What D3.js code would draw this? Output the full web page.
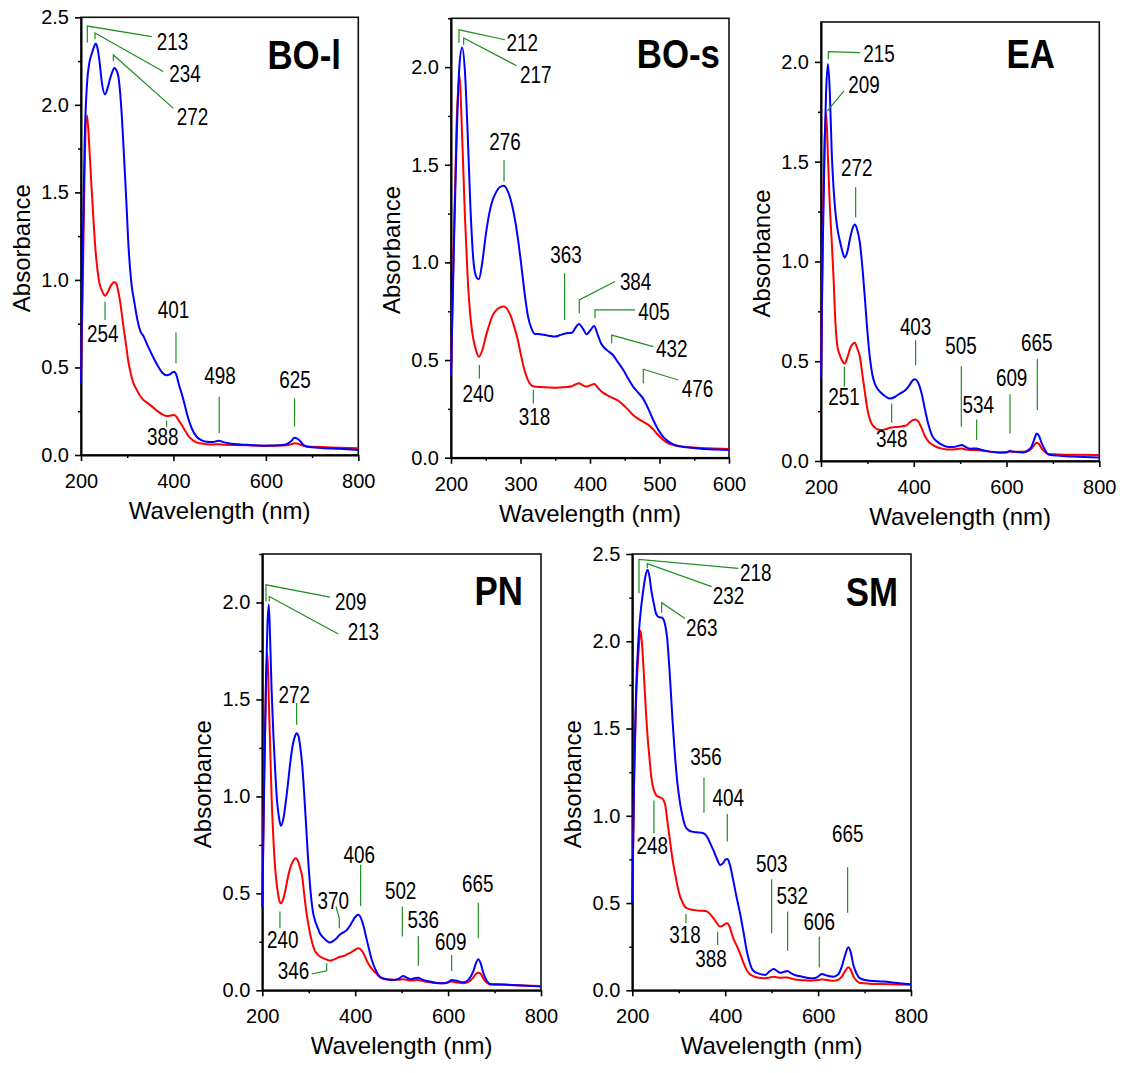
<!DOCTYPE html>
<html><head><meta charset="utf-8">
<script src="https://cdn.jsdelivr.net/npm/d3@7/dist/d3.min.js"></script>
<style>
body{margin:0;background:#fff}
svg{display:block}
text{font-family:"Liberation Sans",Arial,Helvetica,sans-serif;fill:#000}
</style>
</head><body>
<svg id="chart" width="1127" height="1073"></svg>
<script>
// ---------------- DATA ----------------
// BO-l
const boL_wl   = [200,204,208,213,218,223,228,232,236,240,245,252,258,263,268,272,276,281,285,288,292,295,299,302,306,310,315,320,328,335,345,356,366,376,385,392,397,401,406,412,418,425,432,440,450,460,472,485,498,510,530,560,600,630,645,655,662,667,674,681,690,720,760,800];
const boL_blue = [0.41,1.20,1.80,2.12,2.24,2.29,2.33,2.35,2.32,2.25,2.13,2.06,2.10,2.15,2.19,2.21,2.20,2.16,2.06,1.95,1.76,1.61,1.40,1.23,1.07,0.96,0.88,0.80,0.71,0.68,0.62,0.56,0.51,0.47,0.455,0.46,0.47,0.476,0.46,0.40,0.35,0.28,0.21,0.15,0.105,0.085,0.076,0.074,0.082,0.072,0.063,0.058,0.053,0.055,0.062,0.080,0.098,0.095,0.080,0.058,0.047,0.040,0.035,0.029];
const boL_red  = [0.42,1.00,1.65,1.94,1.76,1.52,1.30,1.15,1.05,0.98,0.94,0.91,0.93,0.96,0.98,0.986,0.98,0.93,0.87,0.81,0.73,0.676,0.60,0.54,0.486,0.44,0.40,0.375,0.337,0.315,0.295,0.272,0.25,0.232,0.223,0.224,0.227,0.228,0.22,0.195,0.171,0.14,0.11,0.088,0.072,0.066,0.062,0.06,0.062,0.058,0.057,0.055,0.053,0.054,0.056,0.062,0.067,0.066,0.06,0.053,0.048,0.045,0.042,0.038];
const boL_ann = [
  {t:"213", line:[[213.7,2.356],[213.7,2.45],[353,2.39]], lx:364, ly:2.36, a:"start"},
  {t:"234", line:[[230.3,2.374],[230.3,2.41],[378,2.19]], lx:391, ly:2.18, a:"start"},
  {t:"272", line:[[270,2.25],[270,2.285],[400,1.98]], lx:407, ly:1.93, a:"start"},
  {t:"254", line:[[252,0.876],[252,0.771]], lx:247, ly:0.695, a:"middle"},
  {t:"401", line:[[405.5,0.70],[405.5,0.524]], lx:400, ly:0.832, a:"middle"},
  {t:"388", line:[[385.3,0.196],[385.3,0.162]], lx:376.7, ly:0.105, a:"middle"},
  {t:"498", line:[[499,0.333],[499,0.124]], lx:500.7, ly:0.451, a:"middle"},
  {t:"625", line:[[662,0.324],[662,0.162]], lx:663, ly:0.432, a:"middle"}
];

// BO-s
const boS_wl   = [200,204,208,212,216,220,224,228,232,236,240,245,250,255,260,265,270,276,281,286,291,296,301,306,311,316,320,328,340,350,357,366,374,379,384,390,395,400,406,411,416,424,433,440,448,455,462,469,476,484,491,498,505,512,520,530,540,560,580,600];
const boS_blue = [0.42,1.05,1.62,2.00,2.10,1.98,1.66,1.28,1.02,0.93,0.914,1.00,1.14,1.25,1.32,1.36,1.385,1.392,1.37,1.32,1.24,1.13,0.99,0.84,0.72,0.66,0.635,0.632,0.625,0.62,0.628,0.637,0.64,0.665,0.685,0.66,0.632,0.65,0.675,0.63,0.585,0.552,0.526,0.49,0.449,0.405,0.364,0.335,0.305,0.25,0.193,0.145,0.108,0.085,0.068,0.058,0.053,0.046,0.042,0.039];
const boS_red  = [0.42,1.10,1.70,1.96,1.65,1.24,0.92,0.72,0.61,0.55,0.517,0.55,0.62,0.68,0.73,0.755,0.768,0.774,0.76,0.725,0.67,0.605,0.52,0.445,0.395,0.37,0.364,0.362,0.36,0.358,0.36,0.362,0.366,0.375,0.381,0.37,0.364,0.37,0.377,0.36,0.34,0.322,0.305,0.293,0.27,0.245,0.219,0.2,0.185,0.168,0.145,0.116,0.092,0.075,0.065,0.058,0.054,0.05,0.047,0.044];
const boS_ann = [
  {t:"212", line:[[211.5,2.123],[211.5,2.191],[277.7,2.14]], lx:280, ly:2.123, a:"start"},
  {t:"217", line:[[218.2,2.114],[218.2,2.149],[294.5,2.007]], lx:299.3, ly:1.96, a:"start"},
  {t:"276", line:[[276.3,1.525],[276.3,1.414]], lx:277.7, ly:1.62, a:"middle"},
  {t:"363", line:[[363.5,0.944],[363.5,0.705]], lx:365.5, ly:1.038, a:"middle"},
  {t:"384", line:[[384.6,0.74],[384.6,0.808],[436,0.902]], lx:443, ly:0.902, a:"start"},
  {t:"405", line:[[407.2,0.714],[407.2,0.757],[464.7,0.757]], lx:469.5, ly:0.748, a:"start"},
  {t:"432", line:[[431.2,0.586],[431.2,0.628],[491,0.569]], lx:495, ly:0.56, a:"start"},
  {t:"476", line:[[476.7,0.381],[476.7,0.453],[527,0.398]], lx:532, ly:0.355, a:"start"},
  {t:"240", line:[[240.8,0.475],[240.8,0.406]], lx:239.3, ly:0.33, a:"middle"},
  {t:"318", line:[[318.5,0.347],[318.5,0.278]], lx:320, ly:0.21, a:"middle"}
];

// EA
const ea_wl   = [200,204,208,211,215,219,223,227,231,235,240,245,251,257,263,268,273,278,284,290,295,300,306,311,316,323,331,340,349,360,370,378,385,392,398,403,409,417,424,431,440,449,460,471,485,495,503,512,522,535,545,564,585,600,607,615,636,647,654,660,665,670,676,683,690,710,744,800];
const ea_blue = [0.42,1.10,1.60,1.85,1.99,1.85,1.555,1.37,1.25,1.17,1.11,1.06,1.02,1.05,1.12,1.165,1.185,1.16,1.09,0.95,0.805,0.65,0.505,0.43,0.388,0.358,0.338,0.322,0.313,0.322,0.338,0.348,0.363,0.385,0.405,0.41,0.395,0.338,0.26,0.188,0.125,0.10,0.082,0.072,0.07,0.075,0.08,0.07,0.062,0.063,0.056,0.047,0.043,0.043,0.05,0.047,0.043,0.055,0.072,0.11,0.138,0.125,0.088,0.055,0.033,0.027,0.022,0.017];
const ea_red  = [0.42,1.20,1.62,1.747,1.52,1.28,1.105,0.92,0.70,0.58,0.535,0.505,0.488,0.52,0.565,0.585,0.592,0.565,0.52,0.42,0.338,0.26,0.205,0.18,0.168,0.158,0.155,0.16,0.167,0.17,0.172,0.175,0.18,0.195,0.205,0.208,0.2,0.165,0.125,0.1,0.082,0.07,0.062,0.058,0.058,0.06,0.063,0.057,0.055,0.055,0.052,0.047,0.042,0.045,0.047,0.046,0.046,0.05,0.062,0.08,0.092,0.085,0.062,0.045,0.035,0.033,0.031,0.03];
const ea_ann = [
  {t:"215", line:[[215.8,2.013],[215.8,2.052],[284,2.047]], lx:291.3, ly:2.043, a:"start"},
  {t:"209", line:[[213.7,1.755],[249.6,1.855]], lx:259, ly:1.888, a:"start"},
  {t:"272", line:[[274.7,1.372],[274.7,1.222]], lx:277, ly:1.472, a:"middle"},
  {t:"251", line:[[250.3,0.472],[250.3,0.372]], lx:249.6, ly:0.322, a:"middle"},
  {t:"348", line:[[352.3,0.288],[352.3,0.192]], lx:352.3, ly:0.113, a:"middle"},
  {t:"403", line:[[404,0.605],[404,0.48]], lx:404, ly:0.672, a:"middle"},
  {t:"505", line:[[502.5,0.475],[502.5,0.172]], lx:501.8, ly:0.577, a:"middle"},
  {t:"534", line:[[535.6,0.208],[535.6,0.105]], lx:539, ly:0.283, a:"middle"},
  {t:"609", line:[[607.5,0.335],[607.5,0.138]], lx:611, ly:0.417, a:"middle"},
  {t:"665", line:[[666.4,0.513],[666.4,0.255]], lx:665, ly:0.592, a:"middle"}
];

// PN
const pn_wl   = [200,204,208,211,214,217,220,224,228,232,236,240,245,250,255,260,266,271,274,278,282,286,290,294,298,303,308,313,318,324,332,340,346,353,360,366,371,377,382,388,394,400,407,412,418,424,430,436,444,453,465,482,494,503,511,520,527,535,545,560,575,590,600,608,616,633,645,654,660,665,670,676,683,690,720,760,800];
const pn_blue = [0.43,1.05,1.60,1.88,1.99,1.80,1.55,1.31,1.12,0.97,0.89,0.848,0.88,0.96,1.06,1.17,1.27,1.315,1.326,1.31,1.25,1.16,1.02,0.862,0.70,0.535,0.42,0.363,0.33,0.294,0.27,0.252,0.246,0.255,0.268,0.285,0.294,0.302,0.311,0.33,0.355,0.378,0.389,0.375,0.33,0.27,0.21,0.155,0.105,0.07,0.058,0.053,0.06,0.074,0.065,0.057,0.062,0.065,0.055,0.045,0.038,0.036,0.042,0.053,0.05,0.041,0.058,0.096,0.14,0.16,0.14,0.088,0.05,0.033,0.03,0.025,0.019];
const pn_red  = [0.43,1.10,1.60,1.738,1.50,1.25,1.00,0.776,0.62,0.53,0.47,0.449,0.47,0.52,0.58,0.63,0.665,0.681,0.678,0.66,0.625,0.585,0.5,0.42,0.355,0.29,0.24,0.205,0.188,0.174,0.165,0.157,0.153,0.158,0.165,0.172,0.175,0.178,0.185,0.192,0.2,0.21,0.217,0.21,0.19,0.157,0.13,0.11,0.09,0.068,0.057,0.055,0.055,0.057,0.054,0.05,0.052,0.053,0.048,0.042,0.038,0.036,0.04,0.045,0.042,0.037,0.045,0.065,0.085,0.091,0.085,0.06,0.04,0.03,0.028,0.025,0.022];
const pn_ann = [
  {t:"209", line:[[207.9,2.005],[207.9,2.091],[345.7,2.028]], lx:356.5, ly:2.005, a:"start"},
  {t:"213", line:[[215,2.005],[215,2.031],[363.6,1.837]], lx:383.7, ly:1.85, a:"start"},
  {t:"272", line:[[273.9,1.481],[273.9,1.369]], lx:268.9, ly:1.524, a:"middle"},
  {t:"240", line:[[238,0.406],[238,0.32]], lx:243.8, ly:0.26, a:"middle"},
  {t:"346", line:[[306.2,0.084],[338.5,0.101],[338.5,0.139]], lx:301, ly:0.101, a:"end"},
  {t:"370", line:[[358.6,0.432],[365.8,0.371],[365.8,0.32]], lx:352.9, ly:0.463, a:"middle"},
  {t:"406", line:[[411.7,0.647],[411.7,0.435]], lx:408.9, ly:0.698, a:"middle"},
  {t:"502", line:[[501.4,0.432],[501.4,0.277]], lx:497.8, ly:0.514, a:"middle"},
  {t:"536", line:[[535.9,0.28],[535.9,0.126]], lx:546.6, ly:0.366, a:"middle"},
  {t:"609", line:[[607.6,0.182],[607.6,0.1]], lx:605.5, ly:0.248, a:"middle"},
  {t:"665", line:[[665,0.452],[665,0.268]], lx:663.6, ly:0.552, a:"middle"}
];

// SM
const sm_wl   = [200,204,208,213,218,223,228,233,237,241,246,251,256,260,264,268,271,275,279,283,287,292,297,303,308,313,320,328,338,349,356,362,368,375,382,389,396,401,405,410,417,424,432,439,446,452,457,464,471,486,496,504,512,518,526,534,542,550,566,583,596,603,608,615,625,633,643,651,658,665,670,676,683,690,710,740,770,800];
const sm_blue = [0.50,1.25,1.70,2.0,2.17,2.28,2.37,2.41,2.37,2.29,2.22,2.16,2.14,2.137,2.135,2.12,2.09,2.02,1.88,1.71,1.53,1.34,1.19,1.07,1.0,0.947,0.92,0.909,0.905,0.903,0.895,0.875,0.84,0.80,0.755,0.718,0.73,0.75,0.752,0.72,0.635,0.54,0.441,0.34,0.231,0.165,0.126,0.105,0.097,0.088,0.11,0.122,0.11,0.10,0.105,0.111,0.097,0.088,0.078,0.069,0.072,0.085,0.094,0.088,0.08,0.078,0.09,0.136,0.2,0.246,0.22,0.145,0.095,0.069,0.055,0.05,0.042,0.034];
const sm_red  = [0.50,1.20,1.65,1.92,2.06,1.90,1.66,1.45,1.33,1.22,1.15,1.12,1.11,1.105,1.10,1.085,1.06,0.98,0.90,0.82,0.745,0.67,0.60,0.537,0.505,0.48,0.468,0.462,0.458,0.456,0.455,0.45,0.435,0.412,0.385,0.365,0.372,0.383,0.384,0.36,0.3,0.26,0.21,0.16,0.117,0.095,0.085,0.078,0.072,0.069,0.074,0.078,0.074,0.072,0.073,0.073,0.068,0.062,0.058,0.055,0.058,0.06,0.063,0.06,0.056,0.055,0.06,0.078,0.11,0.132,0.12,0.08,0.055,0.042,0.038,0.036,0.033,0.031];
const sm_ann = [
  {t:"218", line:[[214.4,2.275],[214.4,2.469],[428.2,2.418]], lx:431.8, ly:2.393, a:"start"},
  {t:"232", line:[[232.3,2.42],[232.3,2.445],[370.8,2.313]], lx:373, ly:2.26, a:"start"},
  {t:"263", line:[[263.2,2.164],[263.2,2.221],[313.4,2.131]], lx:315.5, ly:2.08, a:"start"},
  {t:"248", line:[[246.6,1.087],[246.6,0.9]], lx:243, ly:0.827, a:"middle"},
  {t:"356", line:[[354.3,1.22],[354.3,1.018]], lx:358.6, ly:1.339, a:"middle"},
  {t:"404", line:[[404.5,1.01],[404.5,0.852]], lx:406.7, ly:1.106, a:"middle"},
  {t:"318", line:[[315.5,0.437],[315.5,0.384]], lx:313.4, ly:0.317, a:"middle"},
  {t:"388", line:[[383.7,0.336],[383.7,0.26]], lx:369.4, ly:0.183, a:"middle"},
  {t:"503", line:[[500,0.636],[500,0.327]], lx:500, ly:0.728, a:"middle"},
  {t:"532", line:[[534.4,0.451],[534.4,0.227]], lx:544.5, ly:0.542, a:"middle"},
  {t:"606", line:[[602.6,0.307],[602.6,0.132]], lx:602.6, ly:0.393, a:"middle"},
  {t:"665", line:[[663.6,0.705],[663.6,0.445]], lx:663.6, ly:0.9, a:"middle"}
];

const panelNames = ["BO-l","BO-s","EA","PN","SM"];
const xTitle = "Wavelength (nm)";
const yTitle = "Absorbance";

// ---------------- LAYOUT ----------------
const layout = [
  {wl:boL_wl, blue:boL_blue, red:boL_red, ann:boL_ann, L:81,    R:358.3, T:17.3, B:455,   xd:[200,800], yd:[0,2.5],  xstep:200, xminor:100, tx:341,  ty:69},
  {wl:boS_wl, blue:boS_blue, red:boS_red, ann:boS_ann, L:451,   R:729,   T:18.3, B:457.7, xd:[200,600], yd:[0,2.25], xstep:100, xminor:50,  tx:720,  ty:68},
  {wl:ea_wl,  blue:ea_blue,  red:ea_red,  ann:ea_ann,  L:821,   R:1099.3,T:22,   B:461,   xd:[200,800], yd:[0,2.2],  xstep:200, xminor:100, tx:1055, ty:68},
  {wl:pn_wl,  blue:pn_blue,  red:pn_red,  ann:pn_ann,  L:262.3, R:541,   T:554,  B:990.3, xd:[200,800], yd:[0,2.25], xstep:200, xminor:100, tx:523,  ty:605},
  {wl:sm_wl,  blue:sm_blue,  red:sm_red,  ann:sm_ann,  L:632.3, R:911,   T:554,  B:990.3, xd:[200,800], yd:[0,2.5],  xstep:200, xminor:100, tx:898,  ty:606}
];

const svg = d3.select("#chart");
const GREEN = "#1f8f1f";

function narrow(sel, ratio){
  sel.each(function(){
    const w = this.getComputedTextLength();
    d3.select(this).attr("textLength", (w*ratio).toFixed(2)).attr("lengthAdjust","spacingAndGlyphs");
  });
}

layout.forEach((p, i) => {
  const x = d3.scaleLinear().domain(p.xd).range([p.L, p.R]);
  const y = d3.scaleLinear().domain(p.yd).range([p.B, p.T]);
  const g = svg.append("g");

  const xMajor = d3.range(p.xd[0], p.xd[1] + 0.001, p.xstep);
  const xMinor = d3.range(p.xd[0], p.xd[1] + 0.001, p.xminor).filter(v => !xMajor.includes(v));
  const yMajor = d3.range(0, p.yd[1] + 0.001, 0.5);
  const yMinor = d3.range(0.25, p.yd[1] + 0.001, 0.5);

  // frame (top/right)
  g.append("rect").attr("x", p.L).attr("y", p.T).attr("width", p.R - p.L).attr("height", p.B - p.T)
    .attr("fill", "none").attr("stroke", "#111").attr("stroke-width", 1.6);

  // minor ticks
  g.append("g").attr("transform", `translate(0,${p.B})`)
    .call(d3.axisBottom(x).tickValues(xMinor).tickSize(3).tickSizeOuter(0).tickFormat(""))
    .call(s => s.select(".domain").remove())
    .selectAll("line").attr("stroke-width", 1.5);
  g.append("g").attr("transform", `translate(${p.L},0)`)
    .call(d3.axisLeft(y).tickValues(yMinor).tickSize(3).tickSizeOuter(0).tickFormat(""))
    .call(s => s.select(".domain").remove())
    .selectAll("line").attr("stroke-width", 1.5);

  // major axes
  const xa = g.append("g").attr("transform", `translate(0,${p.B})`)
    .call(d3.axisBottom(x).tickValues(xMajor).tickSize(6).tickSizeOuter(0).tickPadding(12.8).tickFormat(d3.format("d")));
  const ya = g.append("g").attr("transform", `translate(${p.L},0)`)
    .call(d3.axisLeft(y).tickValues(yMajor).tickSize(6).tickSizeOuter(0).tickPadding(6).tickFormat(d3.format(".1f")));
  [xa, ya].forEach(a => {
    a.select(".domain").attr("stroke-width", 2);
    a.selectAll(".tick line").attr("stroke-width", 1.6);
    a.selectAll("text").attr("font-size", 20).attr("font-family", "'Liberation Sans', Arial, sans-serif");
  });

  // spectra
  const line = d3.line().curve(d3.curveMonotoneX).x(d => x(d[0])).y(d => y(d[1]));
  const redPts = p.wl.map((w, k) => [w, p.red[k]]);
  const bluePts = p.wl.map((w, k) => [w, p.blue[k]]);
  g.append("path").attr("d", line(redPts)).attr("fill", "none").attr("stroke", "#ff0000").attr("stroke-width", 2).attr("stroke-linejoin", "round");
  g.append("path").attr("d", line(bluePts)).attr("fill", "none").attr("stroke", "#0000ff").attr("stroke-width", 2).attr("stroke-linejoin", "round");

  // annotations
  const al = d3.line().x(d => x(d[0])).y(d => y(d[1]));
  p.ann.forEach(a => {
    g.append("path").attr("d", al(a.line)).attr("fill", "none").attr("stroke", GREEN).attr("stroke-width", 1.2);
    const t = g.append("text").attr("x", x(a.lx)).attr("y", y(a.ly)).attr("dy", "0.36em")
      .attr("text-anchor", a.a).attr("font-size", 23).text(a.t);
    narrow(t, 0.82);
  });

  // panel title
  const tt = g.append("text").attr("x", p.tx).attr("y", p.ty).attr("text-anchor", "end")
    .attr("font-size", 41).attr("font-weight", "bold").text(panelNames[i]);
  narrow(tt, 0.85);

  // axis titles
  g.append("text").attr("x", (p.L + p.R) / 2).attr("y", p.B + 64).attr("text-anchor", "middle")
    .attr("font-size", 24).text(xTitle);
  const cy = (p.T + p.B) / 2 + 12;
  g.append("text").attr("transform", `translate(${p.L - 51},${cy}) rotate(-90)`).attr("text-anchor", "middle")
    .attr("font-size", 24).text(yTitle);
});
</script>
</body></html>
